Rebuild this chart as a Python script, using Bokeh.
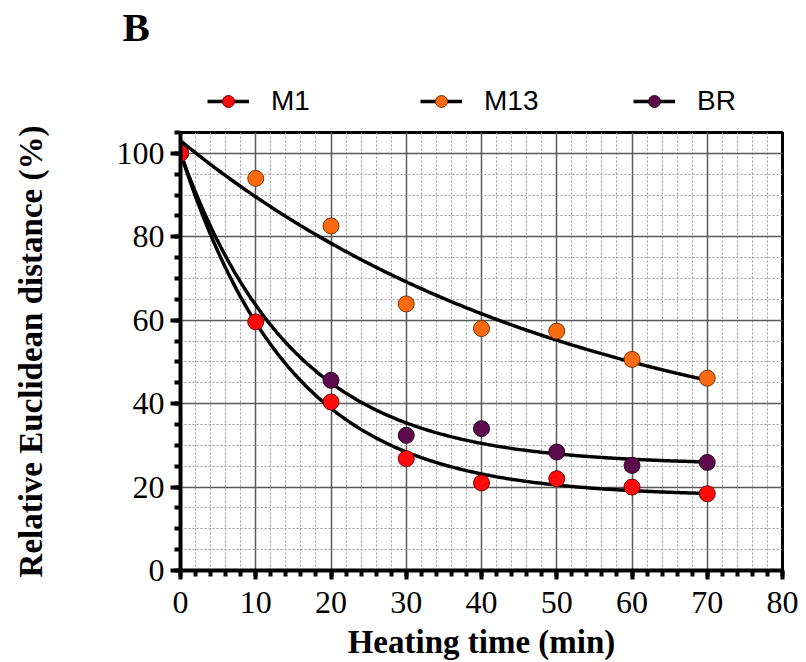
import numpy as np
from bokeh.plotting import figure
from bokeh.layouts import column
from bokeh.models import (Range1d, SingleIntervalTicker, Legend, LegendItem,
                          ColumnDataSource)
from bokeh.embed import file_html
from bokeh.resources import INLINE

# ---- data ----
time_min = [0, 10, 20, 30, 40, 50, 60, 70]
m1 = [100, 59.6, 40.4, 26.8, 21.0, 22.0, 20.0, 18.4]
m13 = [100, 94.0, 82.6, 63.9, 58.0, 57.4, 50.6, 46.1]
br = [100, np.nan, 45.6, 32.4, 34.0, 28.4, 25.2, 25.9]   # 10-min point not visible

series_names = ["M1", "M13", "BR"]
fill_colors = ["#ff0a0a", "#fb6a0e", "#5b0a4c"]
edge_colors = ["#7a0000", "#7a3300", "#2a0022"]

x_tick_interval = 10
y_tick_interval = 20
panel_label = "B"
x_label = "Heating time (min)"
y_label = "Relative Euclidean distance (%)"


def exp_fit(x, y):
    """Least-squares fit y = c + A*exp(-k x) (one-phase decay)."""
    x = np.asarray(x, float)
    y = np.asarray(y, float)
    ok = ~np.isnan(y)
    x, y = x[ok], y[ok]
    best = None
    for k in np.linspace(0.002, 0.3, 3000):
        M = np.column_stack([np.ones_like(x), np.exp(-k * x)])
        coef, *_ = np.linalg.lstsq(M, y, rcond=None)
        sse = float(((M @ coef - y) ** 2).sum())
        if best is None or sse < best[0]:
            best = (sse, coef[0], coef[1], k)
    return best[1], best[2], best[3]


all_series = [m1, m13, br]

# ---------------- header: panel letter (title) + legend ----------------
HEADER_H = 127
header = figure(width=806, height=HEADER_H, output_backend="svg", toolbar_location=None,
                x_range=Range1d(0, 80), y_range=Range1d(200, 300),
                min_border=0, outline_line_color=None, title=panel_label)
header.axis.visible = False
header.grid.visible = False
header.background_fill_color = "white"
header.border_fill_color = "white"
header.title.align = "left"
header.title.offset = -58
header.title.text_font = "Liberation Serif"
header.title.text_font_style = "bold"
header.title.text_font_size = "41px"
header.title.text_color = "black"
header.title.standoff = 2

legend_items = []
for name, vals, fc, ec in zip(series_names, all_series, fill_colors, edge_colors):
    # same series, outside this header's visible range: only used for legend glyphs
    lr = header.line(time_min, vals, line_color="black", line_width=3.5)
    sr = header.scatter(time_min, vals, size=16, fill_color=fc, line_color=ec, line_width=1)
    legend_items.append(LegendItem(label=name, renderers=[lr, sr]))

legend = Legend(items=legend_items, orientation="horizontal", location=(27, 10),
                glyph_width=42, glyph_height=30, label_standoff=22,
                label_width=56, spacing=93, padding=0, margin=0,
                border_line_color=None, background_fill_alpha=0,
                label_text_font="Liberation Sans", label_text_font_size="28px",
                label_text_color="black")
header.add_layout(legend, "center")

# ---------------- main chart ----------------
p = figure(width=806, height=662 - HEADER_H, output_backend="svg", toolbar_location=None,
           x_range=Range1d(0, 80), y_range=Range1d(0, 105),
           min_border_left=180, min_border_right=24, min_border_top=5,
           min_border_bottom=91)
p.background_fill_color = "white"
p.border_fill_color = "white"
p.outline_line_color = "black"
p.outline_line_width = 3

p.xaxis.ticker = SingleIntervalTicker(interval=x_tick_interval, num_minor_ticks=5)
p.yaxis.ticker = SingleIntervalTicker(interval=y_tick_interval, num_minor_ticks=4)
for ax in (p.xaxis[0], p.yaxis[0]):
    ax.axis_line_width = 4
    ax.axis_line_color = "black"
    ax.major_tick_line_width = 4
    ax.minor_tick_line_width = 4
    ax.major_tick_line_color = "black"
    ax.minor_tick_line_color = "black"
    ax.major_tick_in = 0
    ax.minor_tick_in = 0
    ax.major_label_text_font = "Liberation Serif"
    ax.major_label_text_font_size = "32px"
    ax.major_label_text_color = "black"
    ax.axis_label_text_font = "Liberation Serif"
    ax.axis_label_text_font_style = "bold"
    ax.axis_label_text_font_size = "33px"
    ax.axis_label_text_color = "black"

p.xaxis.major_tick_out = 9
p.xaxis.minor_tick_out = 6
p.yaxis.major_tick_out = 10
p.yaxis.minor_tick_out = 6
p.xaxis.major_label_standoff = 12
p.yaxis.major_label_standoff = 6
p.xaxis.axis_label = x_label
p.yaxis.axis_label = y_label
p.xaxis.axis_label_standoff = 8
p.yaxis.axis_label_standoff = 65

for g in (p.xgrid[0], p.ygrid[0]):
    g.grid_line_color = "#5a5a5a"
    g.grid_line_width = 1.5
    g.minor_grid_line_color = "#9a9a9a"
    g.minor_grid_line_width = 1
    g.minor_grid_line_dash = "2 2"

xs_fine = np.linspace(0, 70, 300)
for name, vals in zip(series_names, all_series):
    c, A, k = exp_fit(time_min, vals)
    p.line(xs_fine, c + A * np.exp(-k * xs_fine), line_color="black", line_width=3.5)

for idx in [1, 2, 0]:  # M1 drawn last so it sits on top
    src = ColumnDataSource(dict(x=time_min, y=all_series[idx]))
    p.scatter("x", "y", source=src, size=16, fill_color=fill_colors[idx],
              line_color=edge_colors[idx], line_width=1)

layout = column(header, p, spacing=0)
open("out.html", "w").write(file_html(layout, INLINE))
